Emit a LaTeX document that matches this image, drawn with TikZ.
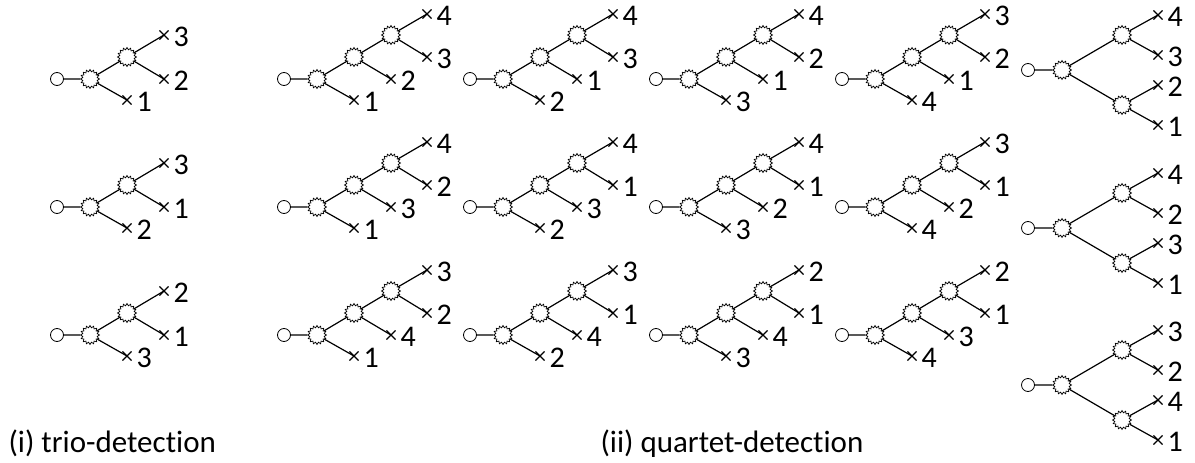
\documentclass[tikz,border=0pt]{standalone}
\usepackage{fontspec}
\setmainfont{Carlito}[Ligatures=NoCommon]
\usetikzlibrary{shapes.geometric, shapes.misc}

\begin{document}
\begin{tikzpicture}[x=1pt, y=-1pt, line width=1.2pt,
    font=\fontsize{30}{34}\selectfont,
    root/.style={circle, draw, line width=0.8pt, inner sep=0pt, minimum size=13pt},
    burst/.style={star, star points=16, star point ratio=1.3, draw, line width=0.7pt,
      fill=white, inner sep=0pt, minimum size=19pt},
    leaf/.style={cross out, draw, line width=1.1pt, inner sep=0pt, minimum size=8pt},
    lab/.style={anchor=west, inner sep=0pt}]
  \useasboundingbox (0,0) rectangle (1195,463);
  % (i) trio trees
  \foreach \i/\y/\a/\b/\c in {1/79/3/2/1, 2/207/3/1/2, 3/335/2/1/3} {
    \begin{scope}[shift={(57,\y)}]
      \node[root] (tr\i) at (0,0) {};
      \node[burst] (ta\i) at (33,0) {};
      \node[burst] (tb\i) at (70,-22) {};
      \node[leaf] (tx\i-1) at (107,-44) {};
      \node[leaf] (tx\i-2) at (107,0) {};
      \node[leaf] (tx\i-3) at (70,21) {};
      \node[lab] (tn\i-1) at (116,-42) {\a};
      \node[lab] (tn\i-2) at (116,2) {\b};
      \node[lab] (tn\i-3) at (79,23) {\c};
      \draw (tr\i) -- (ta\i) -- (tb\i) -- (tx\i-1.center);
      \draw (tb\i) -- (tx\i-2.center);
      \draw (ta\i) -- (tx\i-3.center);
    \end{scope}}
  % (ii) caterpillar quartets
  \foreach \i/\x/\y/\a/\b/\c/\d in {1/284/79/4/3/2/1, 2/470/79/4/3/1/2, 3/656/79/4/2/1/3,
      4/842/79/3/2/1/4, 5/284/207/4/2/3/1, 6/470/207/4/1/3/2, 7/656/207/4/1/2/3,
      8/842/207/3/1/2/4, 9/284/335/3/2/4/1, 10/470/335/3/1/4/2, 11/656/335/2/1/4/3,
      12/842/335/2/1/3/4} {
    \begin{scope}[shift={(\x,\y)}]
      \node[root] (cr\i) at (0,0) {};
      \node[burst] (ca\i) at (33,0) {};
      \node[burst] (cb\i) at (70,-22) {};
      \node[burst] (cc\i) at (107,-44) {};
      \node[leaf] (cx\i-1) at (143,-65) {};
      \node[leaf] (cx\i-2) at (143,-22) {};
      \node[leaf] (cx\i-3) at (107,0) {};
      \node[leaf] (cx\i-4) at (70,21) {};
      \node[lab] (cn\i-1) at (152,-63) {\a};
      \node[lab] (cn\i-2) at (152,-20) {\b};
      \node[lab] (cn\i-3) at (116,2) {\c};
      \node[lab] (cn\i-4) at (79,23) {\d};
      \draw (cr\i) -- (ca\i) -- (cb\i) -- (cc\i) -- (cx\i-1.center);
      \draw (cc\i) -- (cx\i-2.center);
      \draw (cb\i) -- (cx\i-3.center);
      \draw (ca\i) -- (cx\i-4.center);
    \end{scope}}
  % (ii) balanced quartets
  \foreach \i/\y/\a/\b/\c/\d in {1/70/4/3/2/1, 2/228/4/2/3/1, 3/385/3/2/4/1} {
    \begin{scope}[shift={(1028,\y)}]
      \node[root] (br\i) at (0,0) {};
      \node[burst] (ba\i) at (34,0) {};
      \node[burst] (bu\i) at (94,-35) {};
      \node[burst] (bl\i) at (94,35) {};
      \node[leaf] (bx\i-1) at (130,-55) {};
      \node[leaf] (bx\i-2) at (130,-15) {};
      \node[leaf] (bx\i-3) at (130,15) {};
      \node[leaf] (bx\i-4) at (130,55) {};
      \node[lab] (bn\i-1) at (139,-53) {\a};
      \node[lab] (bn\i-2) at (139,-13) {\b};
      \node[lab] (bn\i-3) at (139,17) {\c};
      \node[lab] (bn\i-4) at (139,57) {\d};
      \draw (br\i) -- (ba\i) -- (bu\i) -- (bx\i-1.center);
      \draw (bu\i) -- (bx\i-2.center);
      \draw (ba\i) -- (bl\i) -- (bx\i-3.center);
      \draw (bl\i) -- (bx\i-4.center);
    \end{scope}}
  % captions
  \node[anchor=base west, inner sep=0pt, font=\fontsize{31}{36}\selectfont] (capi) at (8,452) {(i) trio-detection};
  \node[anchor=base west, inner sep=0pt, font=\fontsize{31}{36}\selectfont] (capii) at (600,452) {(ii) quartet-detection};
\end{tikzpicture}
\end{document}
